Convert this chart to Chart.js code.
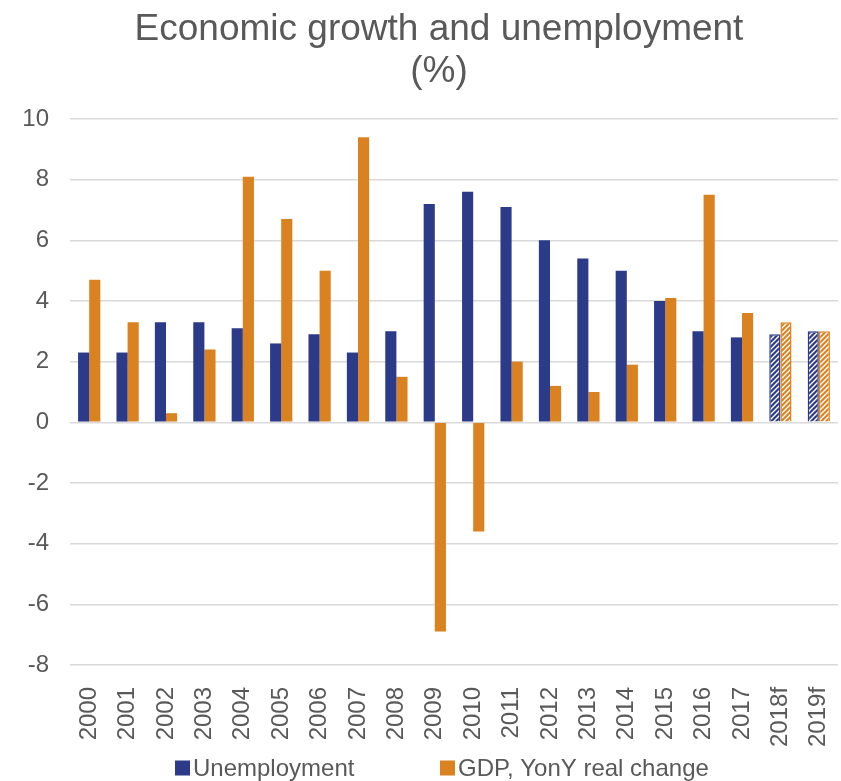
<!DOCTYPE html>
<html>
<head>
<meta charset="utf-8">
<script src="https://cdn.jsdelivr.net/npm/chart.js@4"></script>
<style>
  html, body { margin: 0; padding: 0; background: #fff; }
  #wrap { width: 841px; height: 781px; }
</style>
</head>
<body>
<div id="wrap"><canvas id="c" width="841" height="781"></canvas></div>
<script>
const years = ['2000','2001','2002','2003','2004','2005','2006','2007','2008','2009',
               '2010','2011','2012','2013','2014','2015','2016','2017','2018f','2019f'];
const unemployment = [2.3, 2.3, 3.3, 3.3, 3.1, 2.6, 2.9, 2.3, 3.0, 7.2,
                      7.6, 7.1, 6.0, 5.4, 5.0, 4.0, 3.0, 2.8, 2.9, 3.0];
const gdpChange = [4.7, 3.3, 0.3, 2.4, 8.1, 6.7, 5.0, 9.4, 1.5, -6.9,
                   -3.6, 2.0, 1.2, 1.0, 1.9, 4.1, 7.5, 3.6, 3.3, 3.0];
const yTicks = [-8, -6, -4, -2, 0, 2, 4, 6, 8, 10];
const titleLines = ['Economic growth and unemployment', '(%)'];

const BLUE = '#2B3B8A';
const ORANGE = '#D9821F';
const TEXT = '#595959';
const FONT = "'Liberation Sans', Arial, sans-serif";

// Forecast years get a hatched fill
function hatch(color) {
  const p = document.createElement('canvas');
  p.width = 5; p.height = 5;
  const g = p.getContext('2d');
  g.fillStyle = color;
  g.fillRect(0, 0, 5, 5);
  g.strokeStyle = '#ffffff';
  g.lineWidth = 1.4;
  g.beginPath();
  g.moveTo(-1, 6); g.lineTo(6, -1);
  g.moveTo(-3.5, 3.5); g.lineTo(3.5, -3.5);
  g.moveTo(1.5, 8.5); g.lineTo(8.5, 1.5);
  g.stroke();
  return document.getElementById('c').getContext('2d').createPattern(p, 'repeat');
}
function fills(color) {
  const pat = hatch(color);
  return years.map(y => y.endsWith('f') ? pat : color);
}

// Two-line title, centred a little right of the canvas middle
const topTitle = {
  id: 'topTitle',
  afterDraw(chart) {
    const ctx = chart.ctx;
    ctx.save();
    ctx.font = "37px " + FONT;
    ctx.fillStyle = TEXT;
    ctx.textAlign = 'center';
    ctx.textBaseline = 'alphabetic';
    ctx.fillText(titleLines[0], 439, 40);
    ctx.fillText(titleLines[1], 439, 82);
    ctx.restore();
  }
};

// Legend drawn underneath the axis labels, two equal-width entries
const bottomLegend = {
  id: 'bottomLegend',
  afterDraw(chart) {
    const ctx = chart.ctx;
    const items = chart.data.datasets.map(ds => ({ text: ds.label, color: ds.borderColor }));
    const slot = 265, startX = 175, y = 768, box = 15;
    ctx.save();
    ctx.font = "24px " + FONT;
    ctx.textBaseline = 'middle';
    ctx.textAlign = 'left';
    items.forEach((it, i) => {
      const x = startX + i * slot;
      ctx.fillStyle = it.color;
      ctx.fillRect(x, y - box / 2, box, box);
      ctx.fillStyle = TEXT;
      ctx.fillText(it.text, x + box + 3, y + 1);
    });
    ctx.restore();
  }
};

new Chart(document.getElementById('c'), {
  type: 'bar',
  data: {
    labels: years,
    datasets: [
      {
        label: 'Unemployment',
        data: unemployment,
        backgroundColor: fills(BLUE),
        borderColor: BLUE,
        borderWidth: years.map(y => y.endsWith('f') ? 1.5 : 0),
        categoryPercentage: 0.58,
        barPercentage: 1.0
      },
      {
        label: 'GDP, YonY real change',
        data: gdpChange,
        backgroundColor: fills(ORANGE),
        borderColor: ORANGE,
        borderWidth: years.map(y => y.endsWith('f') ? 1.5 : 0),
        categoryPercentage: 0.58,
        barPercentage: 1.0
      }
    ]
  },
  plugins: [topTitle, bottomLegend],
  options: {
    responsive: false,
    animation: false,
    layout: { padding: { left: 20, right: 3, top: 119, bottom: 20 } },
    plugins: {
      title: { display: false },
      legend: { display: false },
      tooltip: { enabled: false }
    },
    scales: {
      x: {
        grid: { display: false },
        border: { display: false },
        afterFit(scale) { scale.paddingLeft = 0; scale.paddingRight = 0; },
        ticks: {
          color: TEXT,
          font: { family: FONT, size: 24 },
          minRotation: 90,
          maxRotation: 90,
          padding: 14
        }
      },
      y: {
        min: -8,
        max: 10,
        afterBuildTicks(scale) { scale.ticks = yTicks.map(v => ({ value: v })); },
        afterFit(scale) { scale.width = 50; scale.paddingTop = 0; scale.paddingBottom = 0; },
        grid: { color: '#D9D9D9', lineWidth: 1.5, drawTicks: false },
        border: { display: false },
        ticks: {
          color: TEXT,
          font: { family: FONT, size: 24 },
          padding: 21
        }
      }
    }
  }
});
</script>
</body>
</html>
